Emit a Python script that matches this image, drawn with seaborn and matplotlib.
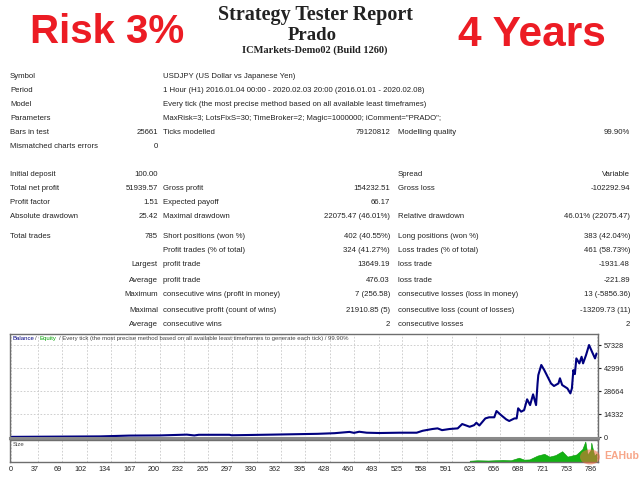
import numpy as np
import pandas as pd
import matplotlib
matplotlib.use("Agg")
import matplotlib.pyplot as plt
import seaborn as sns
from matplotlib.patches import Circle

# ==========================
# Data
# ==========================

header_left = "Risk 3%"
header_right = "4 Years"
title = "Strategy Tester Report"
expert = "Prado"
server = "ICMarkets-Demo02 (Build 1260)"

info_labels = ["Symbol", "Period", "Model", "Parameters"]
info_values = [
    "USDJPY (US Dollar vs Japanese Yen)",
    "1 Hour (H1) 2016.01.04 00:00 - 2020.02.03 20:00 (2016.01.01 - 2020.02.08)",
    "Every tick (the most precise method based on all available least timeframes)",
    'MaxRisk=3; LotsFixS=30; TimeBroker=2; Magic=1000000; iComment="PRADO";',
]

# rows: label, value1, label2, value2, label3, value3
stat_rows = [
    ["Bars in test", "25661", "Ticks modelled", "79120812", "Modelling quality", "99.90%"],
    ["Mismatched charts errors", "0", "", "", "", ""],
    ["Initial deposit", "100.00", "", "", "Spread", "Variable"],
    ["Total net profit", "51939.57", "Gross profit", "154232.51", "Gross loss", "-102292.94"],
    ["Profit factor", "1.51", "Expected payoff", "66.17", "", ""],
    ["Absolute drawdown", "25.42", "Maximal drawdown", "22075.47 (46.01%)", "Relative drawdown", "46.01% (22075.47)"],
    ["Total trades", "785", "Short positions (won %)", "402 (40.55%)", "Long positions (won %)", "383 (42.04%)"],
    ["", "", "Profit trades (% of total)", "324 (41.27%)", "Loss trades (% of total)", "461 (58.73%)"],
    ["", "Largest", "profit trade", "13649.19", "loss trade", "-1931.48"],
    ["", "Average", "profit trade", "476.03", "loss trade", "-221.89"],
    ["", "Maximum", "consecutive wins (profit in money)", "7 (256.58)", "consecutive losses (loss in money)", "13 (-5856.36)"],
    ["", "Maximal", "consecutive profit (count of wins)", "21910.85 (5)", "consecutive loss (count of losses)", "-13209.73 (11)"],
    ["", "Average", "consecutive wins", "2", "consecutive losses", "2"],
]
stat_y = [132, 146, 174, 188, 202, 216, 236, 250, 265, 280, 295, 310, 324]

bal_trade = [0, 60, 120, 159, 200, 236, 246, 252, 293, 296,
             350, 411, 434, 454, 460, 467, 477, 494, 521, 544,
             552, 565, 572, 578, 588, 599, 605, 615, 621, 624,
             628, 636, 641, 648, 651, 657, 664, 668, 675, 678,
             680, 684, 688, 692, 696, 700, 704, 706, 707, 711,
             715, 724, 728, 734, 736, 739, 746, 750, 752, 754,
             756, 758, 762, 765, 767, 771, 775, 779, 783, 785]
bal_value = [100, 250, 400, 900, 1000, 1500, 1000, 1400, 1400, 1100,
             1500, 2000, 2400, 3200, 2600, 3300, 2700, 2500, 2700, 2700,
             3900, 5000, 5400, 4300, 5000, 5400, 8100, 6400, 7400, 8900,
             7200, 11600, 12300, 12300, 16200, 13700, 11000, 10000, 11600, 11600,
             17900, 15800, 16800, 23500, 19900, 26600, 19900, 33400, 38600, 44900,
             41700, 33400, 31800, 33400, 36600, 32400, 30300, 27200, 30300, 41700,
             39200, 49000, 45900, 50000, 45900, 51100, 57328, 53100, 49000, 52040]

size_trade = [615, 625, 640, 655, 659, 670, 681, 688, 695, 706, 715, 722,
              730, 739, 746, 752, 758, 766, 770, 773, 777, 778, 782, 785]
size_lots = [0.6, 0.8, 0.7, 0.9, 1.0, 0.8, 2.0, 1.1, 1.2, 3.0, 3.8, 2.5,
             3.2, 5.0, 2.5, 3.0, 3.5, 6.0, 9.5, 3.5, 5.5, 9.0, 3.0, 4.0]

x_ticks = [0, 37, 69, 102, 134, 167, 200, 232, 265, 297, 330, 362, 395,
           428, 460, 493, 525, 558, 591, 623, 656, 688, 721, 753, 786]
y_ticks = [0, 14332, 28664, 42996, 57328]

# ==========================
# Figure
# ==========================

sns.set_style("white")
plt.rcParams["font.family"] = ["Liberation Sans", "DejaVu Sans"]

W, H = 640, 480
fig = plt.figure(figsize=(6.4, 4.8), dpi=100)
fig.patch.set_facecolor("white")


def put(x, y, s, **kw):
    kw.setdefault("fontsize", 5.6)
    kw.setdefault("color", "#222222")
    kw.setdefault("va", "center")
    fig.text(x / W, 1 - y / H, s, **kw)


# header
put(107, 32, header_left, fontsize=29, fontweight="bold", color="#ec1c24", ha="center")
put(532, 35, header_right, fontsize=30.5, fontweight="bold", color="#ec1c24", ha="center")
put(315, 15, title, fontsize=14.5, fontweight="bold", family="Liberation Serif", ha="center")
put(312, 35, expert, fontsize=13.5, fontweight="bold", family="Liberation Serif", ha="center")
put(315, 50, server, fontsize=7.5, fontweight="bold", family="Liberation Serif", ha="center")

for i, (lab, val) in enumerate(zip(info_labels, info_values)):
    y = 77 + i * 13.7
    put(10, y, lab)
    put(163, y, val)

for row, y in zip(stat_rows, stat_y):
    put(10, y, row[0])
    put(158, y, row[1], ha="right")
    put(163, y, row[2])
    put(390, y, row[3], ha="right")
    put(398, y, row[4])
    put(630, y, row[5], ha="right")

# ==========================
# Balance chart
# ==========================

ax = fig.add_axes([10 / W, 1 - 438 / H, 588 / W, 104 / H])
ax2 = fig.add_axes([10 / W, 1 - 462 / H, 588 / W, 22 / H], sharex=ax)

bal = pd.DataFrame({"trade": bal_trade, "balance": bal_value})
sns.lineplot(data=bal, x="trade", y="balance", ax=ax, color="#00007f",
             linewidth=1.5, estimator=None)

ax.set_xlim(-1, 787)
ax.set_ylim(-600, 64200)
ax.set_xticks(x_ticks)
ax.set_yticks(y_ticks)
ax.set_yticklabels([str(v) for v in y_ticks])
ax.yaxis.tick_right()
ax.tick_params(axis="y", labelsize=5.2, length=2, pad=2, colors="#222222")
ax.tick_params(axis="x", labelbottom=False, length=0)
ax.grid(True, linestyle=(0, (2, 2)), color="#c8c8c8", linewidth=0.6)
ax.set_xlabel("")
ax.set_ylabel("")
for sp in ax.spines.values():
    sp.set_color("#6e6e6e")
    sp.set_linewidth(1.0)
ax.spines["bottom"].set_linewidth(2.2)
ax.spines["bottom"].set_color("#8a8a8a")

ax.text(0.005, 0.955, "Balance", transform=ax.transAxes, fontsize=4.3, color="#00007f", va="center")
ax.text(0.043, 0.955, "/", transform=ax.transAxes, fontsize=4.3, color="#444444", va="center")
ax.text(0.051, 0.955, "Equity", transform=ax.transAxes, fontsize=4.3, color="#00a000", va="center")
ax.text(0.083, 0.955,
        "/ Every tick (the most precise method based on all available least timeframes to generate each tick) / 99.90%",
        transform=ax.transAxes, fontsize=4.3, color="#444444", va="center")

# ==========================
# Size panel
# ==========================

ax2.fill_between(size_trade, 0, size_lots, color="#13b213", linewidth=0.4, edgecolor="#0a9a0a")
ax2.set_ylim(0, 10.2)
ax2.set_yticks([])
ax2.set_xticks(x_ticks)
ax2.set_xticklabels([str(v) for v in x_ticks])
ax2.tick_params(axis="x", labelsize=5.2, length=0, pad=3, colors="#222222")
for t in ax2.get_xticklabels()[1:]:
    t.set_ha("right")
ax2.xaxis.grid(True, linestyle=(0, (2, 2)), color="#c8c8c8", linewidth=0.6)
for sp in ax2.spines.values():
    sp.set_color("#6e6e6e")
    sp.set_linewidth(1.0)
ax2.text(0.005, 0.78, "Size", transform=ax2.transAxes, fontsize=4.3, color="#444444", va="center")

# watermark
fig.patches.append(Circle((590 / W, 1 - 457 / H), 10 / W, transform=fig.transFigure,
                          facecolor="#f26b3a", alpha=0.55, edgecolor="none"))
put(604, 456, "EAHub", fontsize=7.5, fontweight="bold", color="#f26b3a", alpha=0.6)

fig.savefig("out.png", dpi=100)
